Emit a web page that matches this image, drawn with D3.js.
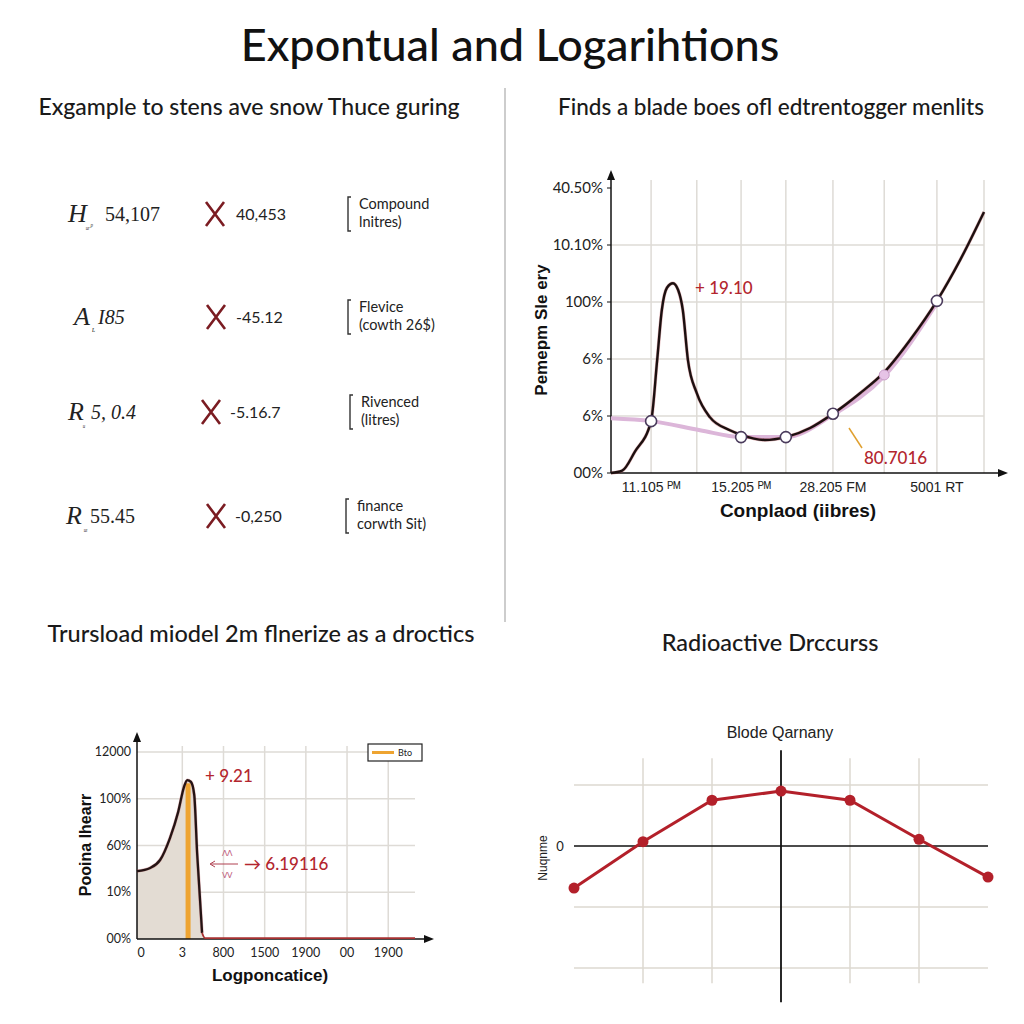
<!DOCTYPE html>
<html><head><meta charset="utf-8">
<script src="https://cdn.jsdelivr.net/npm/d3@7/dist/d3.min.js"></script>
<style>body{margin:0;background:#fff}svg{display:block}</style>
</head><body>
<svg id="c" width="1024" height="1024"></svg>
<script>
// ---------- text ----------
const mainTitle = "Expontual and Logarihtions";
const panelTitles = ["Exgample to stens ave snow Thuce guring","Finds a blade boes ofl edtrentogger menlits","Trursload miodel 2m flnerize as a droctics","Radioactive Drccurss"];

// ---------- top-left rows ----------
const rowSymbols = ["H","A","R","R"];
const rowSubs = ["ᵤᵣᵖ","ʟ","ᵤ","ᵤᵢ"];
const rowValue1 = ["54,107","I85","5, 0.4","55.45"];
const rowValue2 = ["40,453","-45.12","-5.16.7","-0,250"];
const rowLabel1 = ["Compound","Flevice","Rivenced","finance"];
const rowLabel2 = ["lnitres)","(cowth 26$)","(litres)","corwth Sit)"];

// ---------- top-right chart ----------
const trYTicks = [0,1,2,3,4,5];
const trYLabels = ["00%","6%","6%","100%","10.10%","40.50%"];
const trGridX = [0.86,1.84,2.79,3.75,4.76,5.86,6.99,8.0];
const trXTickVals = [0.86,2.79,4.76,6.99];
const trXLabels = ["11.105 ᴾᴹ","15.205 ᴾᴹ","28.205 FM","5001 RT"];
const trCurveX = [0,0.24,0.51,0.86,0.99,1.09,1.20,1.33,1.44,1.54,1.65,1.84,2.12,2.55,2.79,3.30,3.75,4.27,4.76,5.34,5.86,6.41,6.99,7.49,8.0];
const trCurveY = [0,0.04,0.37,0.91,1.98,2.86,3.25,3.33,3.21,2.86,1.98,1.40,0.98,0.75,0.67,0.58,0.63,0.79,1.04,1.40,1.77,2.33,3.02,3.74,4.58];
const trPinkX = [0,0.86,1.91,2.79,3.75,4.76,5.86,6.99];
const trPinkY = [0.96,0.91,0.75,0.63,0.63,1.02,1.70,2.98];
const trDotX = [0.86,2.79,3.75,4.76,6.99];
const trDotY = [0.91,0.63,0.63,1.04,3.02];
const trSmallDot = [5.86,1.72];

// ---------- bottom-left chart ----------
const blYTicks = [0,1,2,3,4];
const blYLabels = ["00%","10%","60%","100%","12000"];
const blXTicks = [0,1,2,3,4,5,6];
const blXLabels = ["0","3","800","1500","1900","00","1900"];
const blCurveX = [-0.10,0.22,0.46,0.70,0.90,1.04,1.12,1.21,1.29,1.36,1.48,1.55,6.65];
const blCurveY = [1.45,1.52,1.69,2.16,2.72,3.25,3.40,3.36,3.08,1.84,0.13,0.02,0.02];
const blBarX = 1.14, blBarY = 3.33;

// ---------- bottom-right chart ----------
const brX = [-3,-2,-1,0,1,2,3];
const brY = [-0.69,0.07,0.75,0.90,0.75,0.11,-0.51];
const brGridY = [1,-1,-2];
const brGridX = [-2,-1,1,2];

const svg = d3.select("#c");
const sans = "Lato, 'Noto Sans', sans-serif";
const serif = "'Liberation Serif', 'DejaVu Serif', serif";
const narrow = "'Liberation Sans Narrow','Liberation Sans',sans-serif";
const darkRed = "#b3262e";

// titles
svg.append("text").attr("x",510).attr("y",61).attr("text-anchor","middle")
  .style("font-family",sans).style("font-size","45px").style("font-weight",500).attr("fill","#111").text(mainTitle);
const ptPos = [[249,115,23],[771,115,22.5],[261,642,23.5],[770,651,23.5]];
panelTitles.forEach((t,i)=>{
  svg.append("text").attr("x",ptPos[i][0]).attr("y",ptPos[i][1]).attr("text-anchor","middle")
    .style("font-family",sans).style("font-size",ptPos[i][2]+"px").style("font-weight",500).attr("fill","#1a1a1a").text(t);
});
// divider
svg.append("line").attr("x1",505).attr("x2",505).attr("y1",88).attr("y2",622).attr("stroke","#bdbdbd").attr("stroke-width",1.5);

// ---------- top-left rows ----------
const rowY = [214,317,412,516];
const symX = [68,74,68,66];
const subX = [86,92,83,84];
const v1X = [105,98,91,90];
const v1Italic = [false,true,true,false];
const xMarkX = [215,216,211,216];
const v2X = [236,236,230,235];
const brkX = [348,348,350,346];
rowY.forEach((y,i)=>{
  const g = svg.append("g");
  g.append("text").attr("x",symX[i]).attr("y",y+8).style("font-family",serif).style("font-style","italic").style("font-size","26px").attr("fill","#222").text(rowSymbols[i]);
  g.append("text").attr("x",subX[i]).attr("y",y+15).style("font-family",serif).style("font-style","italic").style("font-size","8px").attr("fill","#333").text(rowSubs[i]);
  g.append("text").attr("x",v1X[i]).attr("y",y+7).style("font-family",serif).style("font-style",v1Italic[i]?"italic":"normal").style("font-size","20px").attr("fill","#222").text(rowValue1[i]);
  const cx = xMarkX[i];
  g.append("path").attr("d",`M${cx-9},${y-12}L${cx+9},${y+12}M${cx+9},${y-12}L${cx-9},${y+12}`).attr("stroke","#7b1c22").attr("stroke-width",2.6).attr("fill","none");
  g.append("text").attr("x",v2X[i]).attr("y",y+6).style("font-family",sans).style("font-size","16px").attr("fill","#222").text(rowValue2[i]);
  const bx = brkX[i];
  g.append("path").attr("d",`M${bx+3},${y-17}L${bx},${y-17}L${bx},${y+17}L${bx+3},${y+17}`).attr("stroke","#333").attr("stroke-width",1.4).attr("fill","none");
  g.append("text").attr("x",bx+11).attr("y",y-5).style("font-family",sans).style("font-size","14.5px").attr("fill","#222").text(rowLabel1[i]);
  g.append("text").attr("x",bx+11).attr("y",y+13).style("font-family",sans).style("font-size","14.5px").attr("fill","#222").text(rowLabel2[i]);
});

// ---------- top-right chart ----------
(function(){
  const x = d3.scaleLinear().domain([0,8]).range([611,984]);
  const y = d3.scaleLinear().domain([0,5]).range([473,188]);
  const g = svg.append("g");
  g.selectAll(".gx").data(trGridX).join("line").attr("x1",d=>x(d)).attr("x2",d=>x(d)).attr("y1",180).attr("y2",y(0)).attr("stroke","#dedbd6").attr("stroke-width",1.5);
  g.selectAll(".gy").data(trYTicks.filter(d=>d>0&&d<5)).join("line").attr("x1",x(0)).attr("x2",x(8)).attr("y1",d=>y(d)).attr("y2",d=>y(d)).attr("stroke","#dedbd6").attr("stroke-width",1.5);
  g.append("line").attr("x1",x(0)).attr("x2",x(0)).attr("y1",y(0)).attr("y2",176).attr("stroke","#111").attr("stroke-width",1.5);
  g.append("path").attr("d",`M${x(0)-4},${180}L${x(0)},${170}L${x(0)+4},${180}Z`).attr("fill","#111");
  g.append("line").attr("x1",x(0)).attr("x2",1000).attr("y1",y(0)).attr("y2",y(0)).attr("stroke","#111").attr("stroke-width",1.5);
  g.append("path").attr("d",`M${998},${y(0)-4}L${1008},${y(0)}L${998},${y(0)+4}Z`).attr("fill","#111");
  g.selectAll(".yl").data(trYTicks).join("text").attr("x",x(0)-8).attr("y",d=>y(d)+5).attr("text-anchor","end")
    .style("font-family",sans).style("font-size","15px").attr("fill","#222").text((d,i)=>trYLabels[i]);
  g.selectAll(".yt").data(trYTicks).join("line").attr("x1",x(0)-4).attr("x2",x(0)).attr("y1",d=>y(d)).attr("y2",d=>y(d)).attr("stroke","#111");
  g.selectAll(".xl").data(trXTickVals).join("text").attr("x",d=>x(d)).attr("y",492).attr("text-anchor","middle")
    .style("font-family",narrow).style("font-size","14px").attr("fill","#222").text((d,i)=>trXLabels[i]);
  const line = d3.line().curve(d3.curveMonotoneX);
  g.append("path").attr("d",line(trPinkX.map((d,i)=>[x(d),y(trPinkY[i])]))).attr("fill","none").attr("stroke","#dcb6d9").attr("stroke-width",4);
  g.append("path").attr("d",line(trCurveX.map((d,i)=>[x(d),y(trCurveY[i])]))).attr("fill","none").attr("stroke","#b0303a").attr("stroke-width",3.4).attr("opacity",0.35);
  g.append("path").attr("d",line(trCurveX.map((d,i)=>[x(d),y(trCurveY[i])]))).attr("fill","none").attr("stroke","#1c1010").attr("stroke-width",2.4);
  g.append("circle").attr("cx",x(trSmallDot[0])).attr("cy",y(trSmallDot[1])).attr("r",5).attr("fill","#e6c3e6").attr("stroke","#c89cc8");
  g.selectAll(".dt").data(trDotX).join("circle").attr("cx",d=>x(d)).attr("cy",(d,i)=>y(trDotY[i])).attr("r",5.5).attr("fill","#fff").attr("stroke","#4a3b5c").attr("stroke-width",1.6);
  g.append("text").attr("x",695).attr("y",294).style("font-family",sans).style("font-size","17px").style("font-weight",500).attr("fill",darkRed).text("+ 19.10");
  g.append("line").attr("x1",849).attr("x2",862).attr("y1",428).attr("y2",448).attr("stroke","#e0a030").attr("stroke-width",1.5);
  g.append("text").attr("x",864).attr("y",464).style("font-family",sans).style("font-size","17px").style("font-weight",500).attr("fill",darkRed).text("80.7016");
  g.append("text").attr("transform","translate(547,330) rotate(-90)").attr("text-anchor","middle")
    .style("font-family",narrow).style("font-weight","bold").style("font-size","17px").attr("fill","#111").text("Pemepm Sle ery");
  g.append("text").attr("x",798).attr("y",517).attr("text-anchor","middle")
    .style("font-family",narrow).style("font-weight","bold").style("font-size","19px").attr("fill","#111").text("Conplaod (iibres)");
})();

// ---------- bottom-left chart ----------
(function(){
  const x = d3.scaleLinear().domain([-0.1,6.65]).range([137,415]);
  const y = d3.scaleLinear().domain([0,4]).range([939,752]);
  const g = svg.append("g");
  g.selectAll(".gx").data(blXTicks.filter(d=>d>0)).join("line").attr("x1",d=>x(d)).attr("x2",d=>x(d)).attr("y1",746).attr("y2",y(0)).attr("stroke","#dedbd6").attr("stroke-width",1.5);
  g.selectAll(".gy").data(blYTicks.filter(d=>d>0)).join("line").attr("x1",x(-0.1)).attr("x2",415).attr("y1",d=>y(d)).attr("y2",d=>y(d)).attr("stroke","#dedbd6").attr("stroke-width",1.5);
  const pts = blCurveX.map((d,i)=>[x(d),y(blCurveY[i])]);
  const area = d3.area().curve(d3.curveMonotoneX).x(d=>d[0]).y0(y(0)).y1(d=>d[1]);
  g.append("path").attr("d",area(pts)).attr("fill","#e3dcd3");
  g.append("rect").attr("x",x(blBarX)-2.5).attr("y",y(blBarY)).attr("width",5).attr("height",y(0)-y(blBarY)).attr("fill","#eea431");
  g.append("line").attr("x1",x(-0.1)).attr("x2",x(-0.1)).attr("y1",y(0)).attr("y2",738).attr("stroke","#111").attr("stroke-width",1.5);
  g.append("path").attr("d",`M${x(-0.1)-4},742L${x(-0.1)},732L${x(-0.1)+4},742Z`).attr("fill","#111");
  g.append("line").attr("x1",x(-0.1)).attr("x2",426).attr("y1",y(0)).attr("y2",y(0)).attr("stroke","#111").attr("stroke-width",1.5);
  g.append("path").attr("d",`M424,${y(0)-4}L434,${y(0)}L424,${y(0)+4}Z`).attr("fill","#111");
  const line = d3.line().curve(d3.curveMonotoneX);
  g.append("path").attr("d",line(pts.slice(0,11))).attr("fill","none").attr("stroke","#b0303a").attr("stroke-width",3.2).attr("opacity",0.35);
  g.append("path").attr("d",line(pts.slice(0,11))).attr("fill","none").attr("stroke","#241414").attr("stroke-width",2.3);
  g.append("path").attr("d",line(pts.slice(10))).attr("fill","none").attr("stroke","#a83232").attr("stroke-width",1.8);
  g.selectAll(".yl").data(blYTicks).join("text").attr("x",x(-0.1)-6).attr("y",d=>y(d)+4).attr("text-anchor","end")
    .style("font-family",sans).style("font-size","12.5px").attr("fill","#222").text((d,i)=>blYLabels[i]);
  g.selectAll(".xl").data(blXTicks).join("text").attr("x",d=>x(d)).attr("y",957).attr("text-anchor","middle")
    .style("font-family",sans).style("font-size","12.5px").attr("fill","#222").text((d,i)=>blXLabels[i]);
  g.append("rect").attr("x",368).attr("y",744).attr("width",54).attr("height",17).attr("fill","#fff").attr("stroke","#222").attr("stroke-width",1.2);
  g.append("line").attr("x1",372).attr("x2",394).attr("y1",752.5).attr("y2",752.5).attr("stroke","#eea431").attr("stroke-width",3);
  g.append("text").attr("x",398).attr("y",756).style("font-family",sans).style("font-size","9px").attr("fill","#222").text("Bto");
  g.append("text").attr("x",205).attr("y",782).style("font-family",sans).style("font-size","17px").style("font-weight",500).attr("fill",darkRed).text("+ 9.21");
  g.append("line").attr("x1",211).attr("x2",238).attr("y1",864).attr("y2",864).attr("stroke","#b04050").attr("stroke-width",1);
  g.append("path").attr("d","M215,861L210,864L215,867").attr("fill","none").attr("stroke","#b04050");
  g.append("text").attr("x",222).attr("y",856).style("font-family",sans).style("font-size","8px").attr("fill","#c06080").text("ᐱᐱ");
  g.append("text").attr("x",222).attr("y",878).style("font-family",sans).style("font-size","8px").attr("fill","#c06080").text("ᐯᐯ");
  g.append("text").attr("x",244).attr("y",870).style("font-family",sans).style("font-size","17px").style("font-weight",500).attr("fill",darkRed).text("→ 6.19116");
  g.append("text").attr("transform","translate(91,845) rotate(-90)").attr("text-anchor","middle")
    .style("font-family",narrow).style("font-weight","bold").style("font-size","16px").attr("fill","#111").text("Pooina lhearr");
  g.append("text").attr("x",270).attr("y",981).attr("text-anchor","middle")
    .style("font-family",narrow).style("font-weight","bold").style("font-size","17px").attr("fill","#111").text("Logponcatice)");
})();

// ---------- bottom-right chart ----------
(function(){
  const x = d3.scaleLinear().domain([-3,3]).range([574,988]);
  const y = d3.scaleLinear().domain([1,-2]).range([785,968]);
  const g = svg.append("g");
  g.selectAll(".gx").data(brGridX).join("line").attr("x1",d=>x(d)).attr("x2",d=>x(d)).attr("y1",y(1.44)).attr("y2",y(-2.25)).attr("stroke","#ddd8d0").attr("stroke-width",1.5);
  g.selectAll(".gy").data(brGridY).join("line").attr("x1",x(-3)).attr("x2",x(3)).attr("y1",d=>y(d)).attr("y2",d=>y(d)).attr("stroke","#ddd8d0").attr("stroke-width",1.5);
  g.append("line").attr("x1",x(-3)).attr("x2",x(3)).attr("y1",y(0)).attr("y2",y(0)).attr("stroke","#111").attr("stroke-width",1.5);
  g.append("line").attr("x1",x(0)).attr("x2",x(0)).attr("y1",y(1.57)).attr("y2",y(-2.56)).attr("stroke","#111").attr("stroke-width",1.8);
  const line = d3.line();
  g.append("path").attr("d",line(brX.map((d,i)=>[x(d),y(brY[i])]))).attr("fill","none").attr("stroke","#b3202a").attr("stroke-width",3);
  g.selectAll(".pt").data(brX).join("circle").attr("cx",d=>x(d)).attr("cy",(d,i)=>y(brY[i])).attr("r",5.5).attr("fill","#b3202a");
  g.append("text").attr("x",780).attr("y",738).attr("text-anchor","middle").style("font-family",narrow).style("font-size","16px").attr("fill","#222").text("Blode Qarnany");
  g.append("text").attr("x",560).attr("y",y(0)+5).attr("text-anchor","middle").style("font-family",sans).style("font-size","13px").attr("fill","#222").text("0");
  g.append("text").attr("transform",`translate(547,858) rotate(-90)`).attr("text-anchor","middle").style("font-family",narrow).style("font-size","12px").attr("fill","#222").text("Nuqnme");
})();
</script>
</body></html>
